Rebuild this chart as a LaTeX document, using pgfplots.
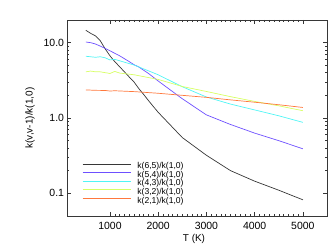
\documentclass[border=0pt]{standalone}
\usepackage{fontspec}
\setmainfont{Liberation Sans}
\usepackage{pgfplots}
\pgfplotsset{compat=1.18}
\usepackage{pgfplotstable}
\definecolor{cblack}{RGB}{55,55,55}
\definecolor{cblue}{RGB}{110,80,255}
\definecolor{ccyan}{RGB}{80,245,245}
\definecolor{cyel}{RGB}{215,255,100}
\definecolor{corange}{RGB}{255,120,60}
\pgfplotstableread{
T v
500 14.6
600 13.3
700 12.3
800 10.6
900 8.3
1000 6.7
1100 5.6
1200 4.8
1300 4.1
1400 3.5
1500 3.0
1600 2.45
1700 2.05
1800 1.7
1900 1.42
2000 1.19
2500 0.55
3000 0.32
3500 0.20
4000 0.145
4500 0.11
5000 0.082
}\kA
\pgfplotstableread{
T v
500 10.2
600 10.0
700 9.6
800 9.0
900 8.4
1000 7.8
1200 6.7
1400 5.6
1500 5.1
1600 4.75
1800 3.9
2000 3.1
2500 1.8
3000 1.1
3500 0.82
4000 0.63
4500 0.5
5000 0.39
}\kB
\pgfplotstableread{
T v
500 6.6
600 6.5
700 6.4
800 6.5
900 6.3
1000 5.9
1100 6.0
1200 5.75
1500 5.05
2000 3.75
2500 2.6
3000 1.9
3500 1.53
4000 1.28
4500 1.07
5000 0.875
}\kC
\pgfplotstableread{
T v
500 4.1
600 4.2
700 4.1
800 4.1
900 4.0
1000 3.9
1100 4.15
1200 3.95
1500 3.75
2000 3.25
2500 2.62
3000 2.25
3500 1.92
4000 1.66
4500 1.45
5000 1.25
}\kD
\pgfplotstableread{
T v
500 2.36
700 2.33
900 2.32
1000 2.28
1100 2.30
1500 2.24
2000 2.13
2500 2.0
3000 1.88
3500 1.74
4000 1.62
4500 1.5
5000 1.38
}\kE
\begin{document}
\begin{tikzpicture}
\useasboundingbox (-67.5bp,-29bp) rectangle (265.5bp,216bp);
\begin{semilogyaxis}[
  at={(0,0)}, anchor=south west,
  scale only axis, width=259.5bp, height=196bp,
  xmin=120, xmax=5500, ymin=0.05, ymax=20,
  xtick={1000,2000,3000,4000,5000},
  minor x tick num=9,
  ytick={0.1,1,10},
  yticklabels={0.1,1.0,10.0},
  tick align=inside,
  major tick length=4bp, minor tick length=2bp,
  axis line style={cblack, line width=0.6pt},
  every tick/.style={cblack, line width=0.5pt},
  /pgf/number format/assume math mode=true,
  /pgf/number format/1000 sep={},
  tick label style={font=\fontsize{10.5}{12}\selectfont},
  xticklabel style={yshift=-3bp},
  label style={font=\fontsize{10.5}{12}\selectfont},
  xlabel={T (K)},
  ylabel={k(v,v-1)/k(1,0)},
  every axis x label/.style={at={(axis description cs:0.4875,-0.117)}, anchor=center},
  every axis y label/.style={at={(axis description cs:-0.1445,0.5)}, rotate=90, anchor=center},
  legend cell align=left,
  legend style={draw=none, fill=none, at={(0.0559,0.274)}, anchor=north west,
    font=\fontsize{8.6}{8.6}\selectfont, inner sep=0pt, row sep=0pt,
    nodes={inner sep=0pt, text height=6.2bp, text depth=2.4bp},
    /tikz/every odd column/.append style={column sep=6.5bp}},
  legend image code/.code={\draw[#1] (0bp,2.8bp) -- (48bp,2.8bp);},
  every axis plot/.append style={line width=0.7pt},
]
\addplot[cblack] table[x=T,y=v] {\kA};
\addlegendentry{k(6,5)/k(1,0)}
\addplot[cblue] table[x=T,y=v] {\kB};
\addlegendentry{k(5,4)/k(1,0)}
\addplot[ccyan] table[x=T,y=v] {\kC};
\addlegendentry{k(4,3)/k(1,0)}
\addplot[cyel] table[x=T,y=v] {\kD};
\addlegendentry{k(3,2)/k(1,0)}
\addplot[corange] table[x=T,y=v] {\kE};
\addlegendentry{k(2,1)/k(1,0)}
\end{semilogyaxis}
\end{tikzpicture}
\end{document}
